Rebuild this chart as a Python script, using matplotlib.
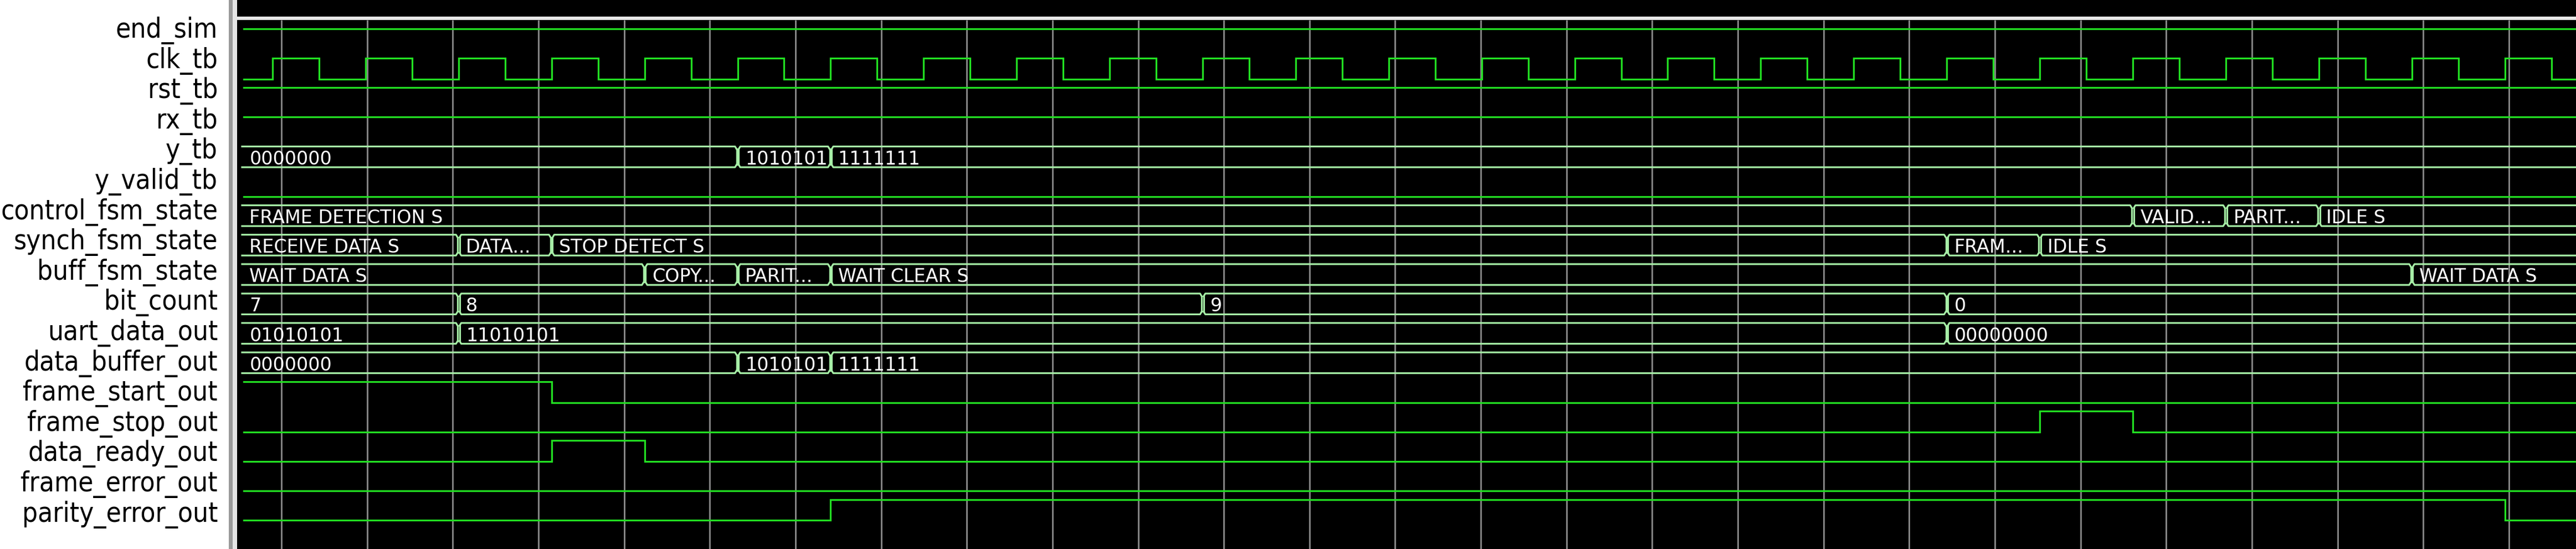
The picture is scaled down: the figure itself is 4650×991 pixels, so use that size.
import matplotlib
matplotlib.use("Agg")
import matplotlib.pyplot as plt
import numpy as np

# ---------------- data (time in ns) ----------------
signal_names = ["end_sim", "clk_tb", "rst_tb", "rx_tb", "y_tb", "y_valid_tb",
                "control_fsm_state", "synch_fsm_state", "buff_fsm_state",
                "bit_count", "uart_data_out", "data_buffer_out",
                "frame_start_out", "frame_stop_out", "data_ready_out",
                "frame_error_out", "parity_error_out"]

clk_edges = [10, 15, 20, 25, 30, 35, 40, 45, 50, 55, 60, 65, 70, 75, 80, 85,
             90, 95, 100, 105, 110, 115, 120, 125, 130, 135, 140, 145, 150,
             155, 160, 165, 170, 175, 180, 185, 190, 195, 200, 205, 210, 215,
             220, 225, 230, 235, 240, 245, 250, 255]

end_sim_times, end_sim_vals = [0], [1]
rst_times, rst_vals = [0], [1]
rx_times, rx_vals = [0], [1]
y_valid_times, y_valid_vals = [0], [0]
frame_start_times, frame_start_vals = [0, 40], [1, 0]
frame_stop_times, frame_stop_vals = [0, 200, 210], [0, 1, 0]
data_ready_times, data_ready_vals = [0, 40, 50], [0, 1, 0]
frame_error_times, frame_error_vals = [0], [0]
parity_error_times, parity_error_vals = [0, 70, 250], [0, 1, 0]

y_tb_times = [0, 60, 70]
y_tb_vals = ["0000000", "1010101", "1111111"]
control_times = [0, 210, 220, 230]
control_vals = ["FRAME DETECTION S", "VALID...", "PARIT...", "IDLE S"]
synch_times = [0, 30, 40, 190, 200]
synch_vals = ["RECEIVE DATA S", "DATA...", "STOP DETECT S", "FRAM...", "IDLE S"]
buff_times = [0, 50, 60, 70, 240]
buff_vals = ["WAIT DATA S", "COPY...", "PARIT...", "WAIT CLEAR S", "WAIT DATA S"]
bit_count_times = [0, 30, 110, 190]
bit_count_vals = ["7", "8", "9", "0"]
uart_times = [0, 30, 190]
uart_vals = ["01010101", "11010101", "00000000"]
buffer_times = [0, 60, 70]
buffer_vals = ["0000000", "1010101", "1111111"]

# ---------------- layout ----------------
W, H = 4650, 991
PX_PER_NS = 16.79


def px_to_t(px):
    return 10 + (px - 492) / PX_PER_NS


T_LEFT, T_RIGHT = px_to_t(428), px_to_t(W)
T_START = px_to_t(440)
ROW_Y0, ROW_PITCH, ROW_H = 52, 53.1, 37.5

BIT_COLOR = "#22e022"
BUS_COLOR = "#a6eea6"
LW = 2.3

fig = plt.figure(figsize=(W / 100, H / 100), dpi=100, facecolor="white")

bg = fig.add_axes([0, 0, 1, 1])
bg.set_xlim(0, W)
bg.set_ylim(H, 0)
bg.axis("off")
bg.add_patch(plt.Rectangle((413, 0), 7, H, color="#9a9a9a", lw=0))
bg.add_patch(plt.Rectangle((420, 0), 8, H, color="#e4e4e4", lw=0))

ax = fig.add_axes([428 / W, 0, 1 - 428 / W, 1])
ax.set_facecolor("black")
ax.set_xlim(T_LEFT, T_RIGHT)
ax.set_ylim(H, 0)
ax.axis("off")
ax.add_patch(plt.Rectangle((T_LEFT, 0), T_RIGHT - T_LEFT, H,
                           color="black", lw=0, zorder=0))
ax.axhspan(30, 36, color="#e8e8e8", lw=0, zorder=1)

grid_t = np.arange(px_to_t(508), T_RIGHT, 154.65 / PX_PER_NS)
ax.vlines(grid_t, 36, H, color="#8c8c8c", lw=2.0, zorder=1)

bus_font = dict(family="DejaVu Sans", stretch="normal", size=24,
                color="white")


def draw_bit(row, times, vals):
    top = ROW_Y0 + row * ROW_PITCH
    levels = [top if v else top + ROW_H for v in vals]
    ts = [max(t, T_START) for t in times] + [T_RIGHT]
    ax.step(ts, levels + [levels[-1]], where="post", color=BIT_COLOR,
            lw=LW, zorder=3, solid_joinstyle="miter")


def draw_bus(row, times, labels):
    top = ROW_Y0 + row * ROW_PITCH
    bot = top + ROW_H
    g, d, c = 1.7 / PX_PER_NS, 3 / PX_PER_NS, 5
    bounds = [max(times[0], px_to_t(437))] + list(times[1:]) + [T_RIGHT]
    for j, lab in enumerate(labels):
        s, e = bounds[j], bounds[j + 1]
        left_tr, right_tr = j > 0, j < len(labels) - 1
        sl = s + g if left_tr else s
        er = e - g if right_tr else e
        if left_tr:
            upper = [(sl, top + c), (sl + d, top)]
            lower = [(sl, bot - c), (sl + d, bot)]
        else:
            upper, lower = [(sl, top)], [(sl, bot)]
        if right_tr:
            upper += [(er - d, top), (er, top + c)]
            lower += [(er - d, bot), (er, bot - c)]
        else:
            upper += [(er, top)]
            lower += [(er, bot)]
        for pts in (upper, lower):
            xs, ys = zip(*pts)
            ax.plot(xs, ys, color=BUS_COLOR, lw=LW, zorder=3)
        for edge, flag in ((sl, left_tr), (er, right_tr)):
            if flag:
                ax.plot([edge, edge], [top + c, bot - c], color=BUS_COLOR,
                        lw=LW, zorder=3)
        txt = ax.text(s + 0.8, bot - 5, lab, va="baseline", ha="left",
                      zorder=4, **bus_font)
        box = plt.Rectangle((sl, top), er - sl - 0.25, ROW_H,
                            transform=ax.transData, visible=False)
        ax.add_patch(box)
        txt.set_clip_path(box)


draw_bit(0, end_sim_times, end_sim_vals)
clk_times = [0] + clk_edges
draw_bit(1, clk_times, [i % 2 for i in range(len(clk_times))])
draw_bit(2, rst_times, rst_vals)
draw_bit(3, rx_times, rx_vals)
draw_bus(4, y_tb_times, y_tb_vals)
draw_bit(5, y_valid_times, y_valid_vals)
draw_bus(6, control_times, control_vals)
draw_bus(7, synch_times, synch_vals)
draw_bus(8, buff_times, buff_vals)
draw_bus(9, bit_count_times, bit_count_vals)
draw_bus(10, uart_times, uart_vals)
draw_bus(11, buffer_times, buffer_vals)
draw_bit(12, frame_start_times, frame_start_vals)
draw_bit(13, frame_stop_times, frame_stop_vals)
draw_bit(14, data_ready_times, data_ready_vals)
draw_bit(15, frame_error_times, frame_error_vals)
draw_bit(16, parity_error_times, parity_error_vals)

for i, name in enumerate(signal_names):
    bg.text(393, 68 + 54.6 * i, name, ha="right", va="baseline",
            family="DejaVu Sans", stretch="condensed", size=35.5,
            color="black")

fig.savefig("out.png", dpi=100, facecolor="white")
